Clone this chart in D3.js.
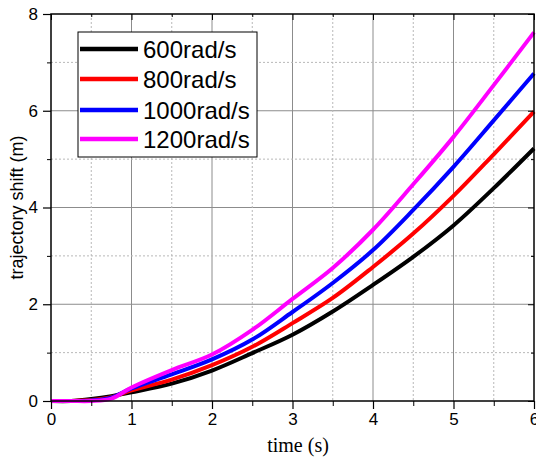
<!DOCTYPE html>
<html>
<head>
<meta charset="utf-8">
<script src="https://cdn.jsdelivr.net/npm/d3@7"></script>
<style>
  body { margin: 0; background: #fff; }
  svg { display: block; }
</style>
</head>
<body>
<div id="chart"></div>
<script>
// values
var times = [0, 0.25, 0.5, 0.75, 1, 1.5, 2, 2.5, 3, 3.5, 4, 4.5, 5, 5.5, 6];
var shift600 = [0, 0.0, 0.04, 0.10, 0.18, 0.36, 0.63, 0.99, 1.37, 1.85, 2.40, 2.98, 3.63, 4.40, 5.22];
var shift800 = [0, 0.0, 0.02, 0.08, 0.22, 0.44, 0.74, 1.12, 1.61, 2.13, 2.77, 3.46, 4.24, 5.10, 5.98];
var shift1000 = [0, 0.0, 0.01, 0.07, 0.26, 0.55, 0.86, 1.27, 1.84, 2.44, 3.12, 3.95, 4.84, 5.80, 6.77];
var shift1200 = [0, 0.0, 0.0, 0.05, 0.28, 0.64, 0.96, 1.47, 2.11, 2.75, 3.54, 4.48, 5.46, 6.53, 7.62];
var seriesNames = ["600rad/s", "800rad/s", "1000rad/s", "1200rad/s"];
var seriesColors = ["#000000", "#ff0000", "#0000ff", "#ff00ff"];
var xTicks = [0, 1, 2, 3, 4, 5, 6];
var yTicks = [0, 2, 4, 6, 8];

var width = 536, height = 463;
var plotLeft = 51, plotRight = 534, plotTop = 14, plotBottom = 401;

var svg = d3.select("#chart").append("svg")
  .attr("width", width)
  .attr("height", height);

var x = d3.scaleLinear().domain([0, 6]).range([plotLeft, plotRight]);
var y = d3.scaleLinear().domain([0, 8]).range([plotBottom, plotTop]);

var xMinor = d3.range(0.5, 6, 1);
var yMinor = d3.range(1, 8, 2);

// grid
var grid = svg.append("g");
grid.selectAll(".gx").data(xTicks.slice(1, -1)).enter().append("line")
  .attr("x1", d => x(d)).attr("x2", d => x(d))
  .attr("y1", plotTop).attr("y2", plotBottom)
  .attr("stroke", "#8c8c8c").attr("stroke-width", 1);
grid.selectAll(".gy").data(yTicks.slice(1, -1)).enter().append("line")
  .attr("x1", plotLeft).attr("x2", plotRight)
  .attr("y1", d => y(d)).attr("y2", d => y(d))
  .attr("stroke", "#8c8c8c").attr("stroke-width", 1);
grid.selectAll(".mx").data(xMinor).enter().append("line")
  .attr("x1", d => x(d)).attr("x2", d => x(d))
  .attr("y1", plotTop).attr("y2", plotBottom)
  .attr("stroke", "#b8b8b8").attr("stroke-width", 1).attr("stroke-dasharray", "2,2");
grid.selectAll(".my").data(yMinor).enter().append("line")
  .attr("x1", plotLeft).attr("x2", plotRight)
  .attr("y1", d => y(d)).attr("y2", d => y(d))
  .attr("stroke", "#b8b8b8").attr("stroke-width", 1).attr("stroke-dasharray", "2,2");

// curves
var allSeries = [shift600, shift800, shift1000, shift1200];
var line = d3.line()
  .x((d, i) => x(times[i]))
  .y(d => y(d))
  .curve(d3.curveCatmullRom.alpha(0.5));

svg.append("g").selectAll("path").data(allSeries).enter().append("path")
  .attr("d", d => line(d))
  .attr("fill", "none")
  .attr("stroke", (d, i) => seriesColors[i])
  .attr("stroke-width", 4)
  .attr("stroke-linejoin", "round");

// axes
var font = "'Liberation Sans', Arial, sans-serif";
var xAxis = svg.append("g").attr("transform", `translate(0,${plotBottom})`)
  .call(d3.axisBottom(x).tickValues(xTicks).tickSize(8).tickPadding(4).tickFormat(d3.format("d")));
var yAxis = svg.append("g").attr("transform", `translate(${plotLeft},0)`)
  .call(d3.axisLeft(y).tickValues(yTicks).tickSize(8).tickPadding(5).tickFormat(d3.format("d")));
[xAxis, yAxis].forEach(a => {
  a.select(".domain").remove();
  a.selectAll(".tick line").attr("stroke", "#000").attr("stroke-width", 1.2);
  a.selectAll("text").attr("fill", "#000").style("font-family", font).style("font-size", "17px");
});

svg.append("g").attr("transform", `translate(0,${plotBottom})`)
  .call(d3.axisBottom(x).tickValues(xMinor).tickSize(5).tickFormat(""))
  .call(g => g.select(".domain").remove());
svg.append("g").attr("transform", `translate(${plotLeft},0)`)
  .call(d3.axisLeft(y).tickValues(yMinor).tickSize(4).tickFormat(""))
  .call(g => g.select(".domain").remove());

// inward ticks on top and right
svg.append("g").attr("transform", `translate(0,${plotTop})`)
  .call(d3.axisBottom(x).tickValues(xTicks).tickSize(6).tickFormat(""))
  .call(g => g.select(".domain").remove());
svg.append("g").attr("transform", `translate(0,${plotTop})`)
  .call(d3.axisBottom(x).tickValues(xMinor).tickSize(3).tickFormat(""))
  .call(g => g.select(".domain").remove());
svg.append("g").attr("transform", `translate(${plotRight},0)`)
  .call(d3.axisLeft(y).tickValues(yTicks).tickSize(6).tickFormat(""))
  .call(g => g.select(".domain").remove());
svg.append("g").attr("transform", `translate(${plotRight},0)`)
  .call(d3.axisLeft(y).tickValues(yMinor).tickSize(3).tickFormat(""))
  .call(g => g.select(".domain").remove());

// frame
svg.append("rect")
  .attr("x", plotLeft).attr("y", plotTop)
  .attr("width", plotRight - plotLeft).attr("height", plotBottom - plotTop)
  .attr("fill", "none").attr("stroke", "#000").attr("stroke-width", 1.5);

// axis titles
svg.append("text")
  .attr("x", 298).attr("y", 452)
  .attr("text-anchor", "middle")
  .style("font-family", "'Liberation Serif', 'Times New Roman', serif")
  .style("font-size", "20px")
  .text("time (s)");

svg.append("text")
  .attr("transform", `translate(23,${(plotTop + plotBottom) / 2}) rotate(-90)`)
  .attr("text-anchor", "middle")
  .style("font-family", font)
  .style("font-size", "18px")
  .text("trajectory shift (m)");

// legend
var legend = svg.append("g");
legend.append("rect")
  .attr("x", 78).attr("y", 32).attr("width", 179).attr("height", 125)
  .attr("fill", "#fff").attr("stroke", "#000").attr("stroke-width", 1);
var legendY = [49, 79, 110, 139];
var items = legend.selectAll(".item").data(seriesNames).enter().append("g")
  .attr("transform", (d, i) => `translate(0,${legendY[i]})`);
items.append("line")
  .attr("x1", 80).attr("x2", 138)
  .attr("stroke", (d, i) => seriesColors[i])
  .attr("stroke-width", 4.5);
items.append("text")
  .attr("x", 143).attr("y", 9)
  .style("font-family", font)
  .style("font-size", "24px")
  .text(d => d);
</script>
</body>
</html>
